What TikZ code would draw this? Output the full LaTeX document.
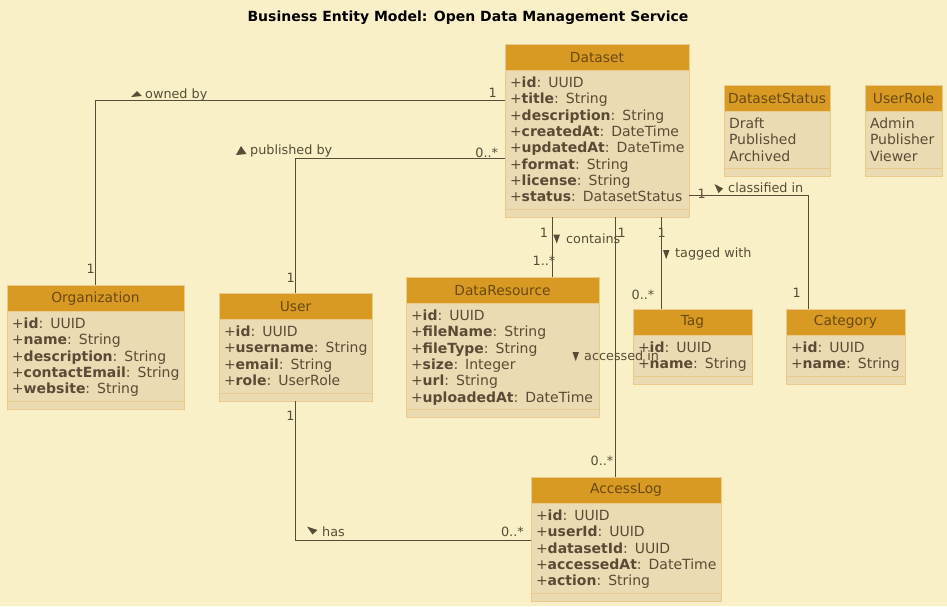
\documentclass[tikz,border=0pt]{standalone}
\usepackage{fontspec}
\setmainfont{DejaVu Sans}[BoldFont={DejaVu Sans Bold}]
\usetikzlibrary{positioning}
\usepackage{xcolor}

\definecolor{pagebg}{HTML}{FAF0C8}
\definecolor{headfill}{HTML}{D89A22}
\definecolor{bodyfill}{HTML}{EADBB2}
\definecolor{boxline}{HTML}{E9CA8C}
\definecolor{inktext}{HTML}{5B4B36}
\definecolor{headtext}{HTML}{6A4A10}
\definecolor{linkcol}{HTML}{5A4A38}

\newcommand{\umlstrut}{\rule[-3.3pt]{0pt}{16.3pt}}
\newcommand{\umlattr}[2]{\umlstrut\mbox{+\textbf{#1}: #2}}
\newcommand{\umlitem}[1]{\umlstrut\mbox{#1}}

\begin{document}
\begin{tikzpicture}[
    x=1pt, y=-1pt,
    classhead/.style={rectangle, draw=boxline, fill=headfill, text=headtext, minimum width=#1, minimum height=26.5pt, inner sep=0pt, outer sep=0pt, anchor=north, font=\fontsize{13.8}{16}\selectfont},
    classattrs/.style={rectangle, draw=boxline, fill=bodyfill, text=inktext, text width=#1, inner xsep=5pt, inner ysep=4pt, outer sep=0pt, align=left, font=\fontsize{14}{16.3}\selectfont},
    classops/.style={rectangle, draw=boxline, fill=bodyfill, minimum width=#1, minimum height=8pt, inner sep=0pt, outer sep=0pt},
    assoc/.style={draw=linkcol, line width=0.9pt},
    mult/.style={text=inktext, inner sep=0pt, font=\fontsize{12.8}{14}\selectfont},
    linklabel/.style={text=inktext, inner sep=0pt, anchor=west, font=\fontsize{12.8}{14}\selectfont},
    marker/.style={fill=linkcol}
]

% Page
\useasboundingbox (0,0) rectangle (947,606);
\fill[pagebg] (0,0) rectangle (947,606);

% Title
\node[font=\bfseries\fontsize{14}{16}\selectfont] (title) at (468,18) {Business Entity Model: Open Data Management Service};

% Dataset
\node[classhead=184pt] (dataset) at (597,44) {Dataset};
\node[classattrs=174pt, below=0pt of dataset] (dataset-attr) {\umlattr{id}{UUID}\\\umlattr{title}{String}\\\umlattr{description}{String}\\\umlattr{createdAt}{DateTime}\\\umlattr{updatedAt}{DateTime}\\\umlattr{format}{String}\\\umlattr{license}{String}\\\umlattr{status}{DatasetStatus}};
\node[classops=184pt, below=0pt of dataset-attr] (dataset-ops) {};

% Enumerations
\node[classhead=106pt] (datasetstatus) at (777,85) {DatasetStatus};
\node[classattrs=96pt, below=0pt of datasetstatus] (datasetstatus-attr) {\umlitem{Draft}\\\umlitem{Published}\\\umlitem{Archived}};
\node[classops=106pt, below=0pt of datasetstatus-attr] (datasetstatus-ops) {};

\node[classhead=77pt] (userrole) at (903.5,85) {UserRole};
\node[classattrs=67pt, below=0pt of userrole] (userrole-attr) {\umlitem{Admin}\\\umlitem{Publisher}\\\umlitem{Viewer}};
\node[classops=77pt, below=0pt of userrole-attr] (userrole-ops) {};

% Organization
\node[classhead=177pt] (organization) at (95.5,285) {Organization};
\node[classattrs=167pt, below=0pt of organization] (organization-attr) {\umlattr{id}{UUID}\\\umlattr{name}{String}\\\umlattr{description}{String}\\\umlattr{contactEmail}{String}\\\umlattr{website}{String}};
\node[classops=177pt, below=0pt of organization-attr] (organization-ops) {};

% User
\node[classhead=153pt] (user) at (295.5,293) {User};
\node[classattrs=143pt, below=0pt of user] (user-attr) {\umlattr{id}{UUID}\\\umlattr{username}{String}\\\umlattr{email}{String}\\\umlattr{role}{UserRole}};
\node[classops=153pt, below=0pt of user-attr] (user-ops) {};

% DataResource
\node[classhead=193pt] (dataresource) at (502.5,277) {DataResource};
\node[classattrs=183pt, below=0pt of dataresource] (dataresource-attr) {\umlattr{id}{UUID}\\\umlattr{fileName}{String}\\\umlattr{fileType}{String}\\\umlattr{size}{Integer}\\\umlattr{url}{String}\\\umlattr{uploadedAt}{DateTime}};
\node[classops=193pt, below=0pt of dataresource-attr] (dataresource-ops) {};

% Tag and Category
\node[classhead=119pt] (tag) at (692.5,309) {Tag};
\node[classattrs=109pt, below=0pt of tag] (tag-attr) {\umlattr{id}{UUID}\\\umlattr{name}{String}};
\node[classops=119pt, below=0pt of tag-attr] (tag-ops) {};

\node[classhead=119pt] (category) at (845.5,309) {Category};
\node[classattrs=109pt, below=0pt of category] (category-attr) {\umlattr{id}{UUID}\\\umlattr{name}{String}};
\node[classops=119pt, below=0pt of category-attr] (category-ops) {};

% AccessLog
\node[classhead=190pt] (accesslog) at (626,477) {AccessLog};
\node[classattrs=180pt, below=0pt of accesslog] (accesslog-attr) {\umlattr{id}{UUID}\\\umlattr{userId}{UUID}\\\umlattr{datasetId}{UUID}\\\umlattr{accessedAt}{DateTime}\\\umlattr{action}{String}};
\node[classops=190pt, below=0pt of accesslog-attr] (accesslog-ops) {};

% Associations
\draw[assoc] ([yshift=-30pt]dataset-attr.north west) -| (organization.north);
\draw[assoc] ([yshift=-88pt]dataset-attr.north west) -| (user.north);
\draw[assoc] ([xshift=-45pt]dataset-ops.south) -- ([xshift=-45pt]dataset-ops.south |- dataresource.north);
\draw[assoc] ([xshift=18.5pt]dataset-ops.south) -- ([xshift=18.5pt]dataset-ops.south |- accesslog.north);
\draw[assoc] ([xshift=64.5pt]dataset-ops.south) -- ([xshift=64.5pt]dataset-ops.south |- tag.north);
\draw[assoc] ([yshift=-125pt]dataset-attr.north east) -| ([xshift=-37pt]category.north);
\draw[assoc] (user-ops.south) |- ([yshift=-37pt]accesslog-attr.north west);

% Association labels
\node[linklabel] (owned) at (145,95) {owned by};
\node[linklabel] (published) at (250,151) {published by};
\node[linklabel] (contains) at (566,238.7) {contains};
\node[linklabel] (tagged) at (675,254) {tagged with};
\node[linklabel] (accessed) at (584,356) {accessed in};
\node[linklabel] (classified) at (728,188) {classified in};
\node[linklabel] (has) at (322,532) {has};

% Direction markers
\fill[marker] (131,97) -- (142,96) -- (137,91) -- cycle;
\fill[marker] (236,155) -- (246.5,154) -- (241,146) -- cycle;
\fill[marker] (714.5,184) -- (723,188.5) -- (718.5,193) -- cycle;
\fill[marker] (307,526.5) -- (317.5,530) -- (312.5,534.5) -- cycle;
\fill[marker] (553.3,234.5) -- (560,234.5) -- (556.7,243.5) -- cycle;
\fill[marker] (663,250) -- (669.5,250) -- (666.2,259) -- cycle;
\fill[marker] (572.5,352) -- (579,352) -- (575.7,361) -- cycle;

% Multiplicities
\node[mult] (m-own-ds) at (492.7,92.7) {1};
\node[mult] (m-own-org) at (90.7,269) {1};
\node[mult] (m-pub-ds) at (486.7,153.3) {0..*};
\node[mult] (m-pub-user) at (290.7,277.7) {1};
\node[mult] (m-con-ds) at (544,232.7) {1};
\node[mult] (m-con-res) at (544,260.7) {1..*};
\node[mult] (m-acc-ds) at (621.7,232.7) {1};
\node[mult] (m-acc-log) at (602,461) {0..*};
\node[mult] (m-tag-ds) at (661.7,232.7) {1};
\node[mult] (m-tag-tag) at (643,295) {0..*};
\node[mult] (m-cat-ds) at (701.6,194) {1};
\node[mult] (m-cat-cat) at (796.7,293.3) {1};
\node[mult] (m-has-user) at (290.5,415.7) {1};
\node[mult] (m-has-log) at (512.4,531.7) {0..*};

\end{tikzpicture}
\end{document}
